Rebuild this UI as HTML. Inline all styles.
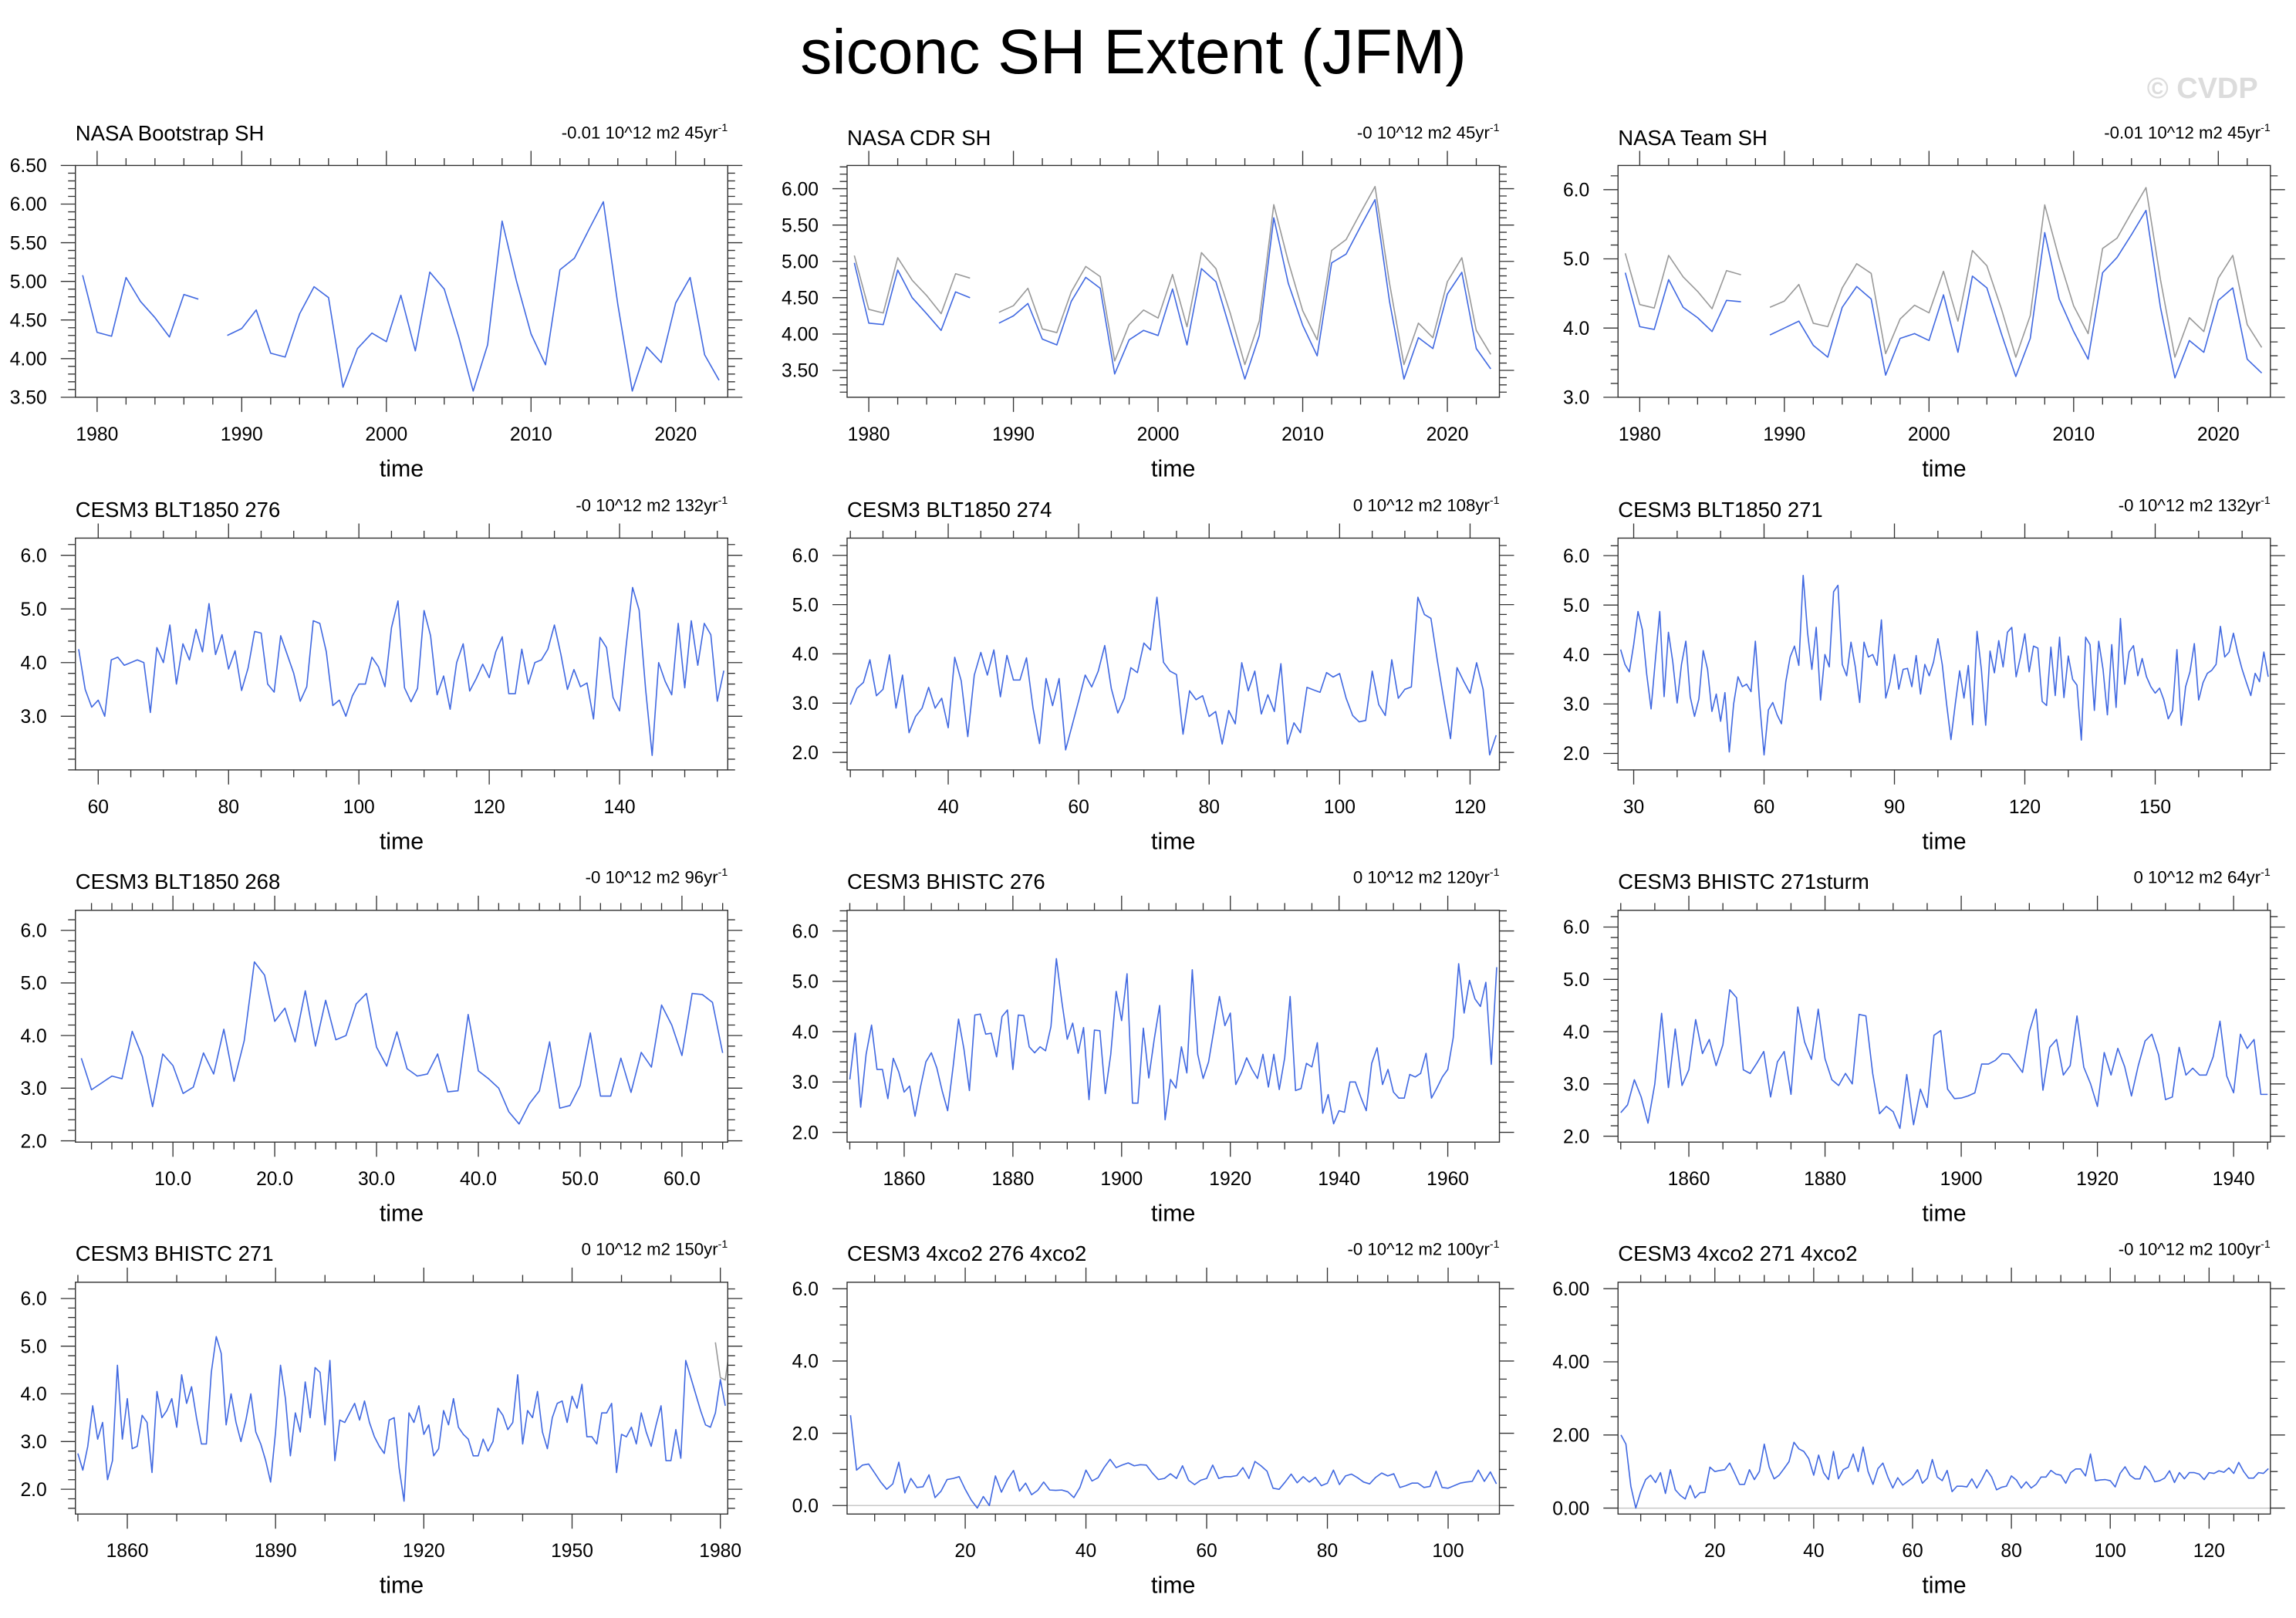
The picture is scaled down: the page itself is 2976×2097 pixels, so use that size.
<!DOCTYPE html>
<html><head><meta charset="utf-8"><title>siconc SH Extent (JFM)</title>
<style>html,body{margin:0;padding:0;background:#fff;}svg{display:block;}</style></head>
<body>
<svg id="chart" xmlns="http://www.w3.org/2000/svg" width="2976" height="2097" viewBox="0 0 1568 1105" preserveAspectRatio="none" font-family="'Liberation Sans', Arial, sans-serif">
<rect x="0" y="0" width="1568" height="1105" fill="#fff"/>
<text x="774" y="50" text-anchor="middle" font-size="43" textLength="455" lengthAdjust="spacingAndGlyphs" fill="#000">siconc SH Extent (JFM)</text>
<text x="1542" y="67" text-anchor="end" font-size="20" font-weight="bold" fill="#dcdcdc">© CVDP</text>
</svg>
<script>
// ---- data (top level) ----
const obsBootstrap = [5.08,4.34,4.29,5.05,4.74,4.53,4.28,4.83,4.77,null,4.30,4.39,4.63,4.07,4.02,4.58,4.93,4.79,3.63,4.13,4.33,4.22,4.82,4.10,5.12,4.90,4.28,3.58,4.18,5.78,5.00,4.32,3.92,5.15,5.30,5.67,6.03,4.70,3.58,4.15,3.95,4.72,5.05,4.05,3.72];
const obsCDR = [4.98,4.15,4.13,4.88,4.50,4.28,4.05,4.58,4.50,null,4.15,4.25,4.42,3.93,3.85,4.45,4.78,4.63,3.45,3.92,4.05,3.98,4.62,3.85,4.90,4.72,4.05,3.38,3.98,5.60,4.70,4.12,3.70,4.98,5.10,5.48,5.85,4.45,3.38,3.95,3.80,4.55,4.85,3.80,3.52];
const obsTeam = [4.80,4.02,3.98,4.70,4.30,4.15,3.95,4.40,4.38,null,3.90,4.00,4.10,3.75,3.58,4.30,4.60,4.42,3.32,3.85,3.92,3.82,4.48,3.65,4.75,4.58,3.92,3.30,3.85,5.38,4.42,3.95,3.55,4.80,5.02,5.35,5.70,4.30,3.28,3.82,3.65,4.40,4.58,3.55,3.35];
const blt276 = [4.25,3.5,3.17,3.3,3.0,4.05,4.1,3.95,4.0,4.05,4.0,3.07,4.28,4.0,4.7,3.6,4.35,4.05,4.62,4.2,5.1,4.15,4.52,3.88,4.22,3.48,3.9,4.58,4.55,3.6,3.45,4.5,4.15,3.8,3.28,3.55,4.78,4.73,4.2,3.2,3.3,3.0,3.38,3.6,3.6,4.1,3.92,3.55,4.65,5.15,3.53,3.27,3.52,4.97,4.5,3.4,3.75,3.13,4.0,4.35,3.47,3.7,3.97,3.72,4.2,4.48,3.42,3.42,4.25,3.6,4.0,4.05,4.25,4.7,4.15,3.5,3.87,3.55,3.62,2.95,4.47,4.28,3.35,3.1,4.3,5.4,4.98,3.5,2.27,4.0,3.65,3.4,4.73,3.53,4.78,3.95,4.73,4.52,3.28,3.85];
const blt274 = [2.97,3.3,3.42,3.88,3.15,3.28,3.98,2.9,3.57,2.4,2.73,2.9,3.32,2.9,3.1,2.5,3.93,3.45,2.32,3.57,4.03,3.57,4.08,3.13,3.97,3.47,3.47,3.92,2.9,2.18,3.5,2.95,3.5,2.05,2.55,3.05,3.57,3.33,3.65,4.17,3.3,2.8,3.1,3.72,3.62,4.22,4.08,5.15,3.83,3.65,3.58,2.37,3.25,3.07,3.15,2.73,2.83,2.17,2.85,2.58,3.82,3.25,3.65,2.78,3.17,2.83,3.8,2.17,2.6,2.4,3.32,3.27,3.22,3.62,3.53,3.6,3.1,2.75,2.62,2.65,3.65,2.97,2.75,3.88,3.1,3.28,3.33,5.15,4.8,4.72,3.85,3.05,2.28,3.72,3.45,3.2,3.82,3.28,1.95,2.35];
const blt271 = [4.1,3.8,3.65,4.2,4.87,4.5,3.6,2.9,3.9,4.87,3.15,4.45,3.85,3.02,3.8,4.27,3.15,2.75,3.1,4.08,3.7,2.85,3.2,2.65,3.23,2.03,3.0,3.55,3.35,3.4,3.25,4.27,3.0,1.97,2.88,3.03,2.78,2.6,3.45,3.95,4.17,3.78,5.6,4.45,3.7,4.55,3.08,4.0,3.75,5.27,5.4,3.8,3.57,4.25,3.75,3.03,4.25,3.95,4.0,3.78,4.7,3.12,3.45,4.0,3.3,3.7,3.72,3.35,3.98,3.2,3.8,3.57,3.85,4.32,3.8,3.0,2.28,3.0,3.67,3.12,3.78,2.58,4.47,3.7,2.57,4.07,3.63,4.28,3.75,4.45,4.55,3.55,3.95,4.42,3.65,4.17,4.13,3.05,2.97,4.15,3.17,4.35,3.13,3.97,3.5,3.38,2.27,4.35,4.2,2.87,4.27,3.7,2.78,4.2,2.93,4.73,3.4,4.05,4.18,3.57,3.92,3.55,3.35,3.22,3.32,3.08,2.7,2.87,4.1,2.57,3.35,3.65,4.22,3.08,3.43,3.62,3.68,3.8,4.57,3.95,4.05,4.43,4.03,3.7,3.43,3.17,3.62,3.45,4.05,3.55];
const blt268 = [3.57,2.97,3.1,3.23,3.18,4.08,3.6,2.65,3.65,3.43,2.9,3.02,3.67,3.27,4.12,3.13,3.9,5.4,5.15,4.27,4.52,3.88,4.85,3.8,4.67,3.92,4.0,4.6,4.8,3.78,3.42,4.07,3.37,3.23,3.27,3.65,2.93,2.95,4.4,3.33,3.18,3.0,2.55,2.32,2.7,2.95,3.88,2.62,2.67,3.05,4.05,2.85,2.85,3.57,2.92,3.68,3.4,4.58,4.2,3.62,4.8,4.78,4.63,3.67];
const bhist276 = [3.05,3.97,2.5,3.55,4.13,3.25,3.25,2.67,3.47,3.2,2.8,2.92,2.32,2.9,3.4,3.58,3.28,2.82,2.43,3.3,4.25,3.65,2.83,4.33,4.35,3.95,3.97,3.5,4.3,4.43,3.25,4.33,4.32,3.7,3.58,3.7,3.62,4.1,5.45,4.6,3.85,4.17,3.57,4.08,2.65,4.03,4.02,2.77,3.55,4.8,4.22,5.15,2.58,2.58,4.07,3.08,3.85,4.52,2.25,3.05,2.88,3.7,3.18,5.23,3.55,3.07,3.4,4.05,4.7,4.12,4.37,2.95,3.18,3.48,3.25,3.07,3.55,2.9,3.55,2.85,3.48,4.7,2.83,2.87,3.37,3.3,3.78,2.38,2.75,2.17,2.43,2.4,3.0,3.0,2.7,2.43,3.37,3.68,2.95,3.25,2.8,2.68,2.68,3.15,3.1,3.17,3.57,2.68,2.88,3.1,3.25,3.88,5.35,4.37,5.02,4.65,4.5,4.98,3.35,5.28];
const bhist271sturm = [2.45,2.6,3.08,2.75,2.25,3.0,4.35,2.93,4.05,2.97,3.27,4.23,3.58,3.85,3.35,3.75,4.8,4.65,3.27,3.2,3.4,3.62,2.75,3.42,3.62,2.8,4.47,3.8,3.47,4.43,3.48,3.08,2.97,3.2,3.0,4.33,4.3,3.2,2.43,2.57,2.47,2.15,3.18,2.22,2.9,2.55,3.93,4.02,2.9,2.72,2.73,2.77,2.83,3.38,3.38,3.45,3.58,3.57,3.4,3.22,4.0,4.43,2.88,3.7,3.85,3.17,3.35,4.3,3.32,3.0,2.57,3.6,3.17,3.68,3.33,2.77,3.35,3.82,3.95,3.55,2.7,2.75,3.7,3.17,3.3,3.17,3.17,3.52,4.2,3.15,2.83,3.95,3.68,3.85,2.8,2.8];
const bhist271 = [2.75,2.4,2.9,3.75,3.05,3.4,2.2,2.6,4.6,3.05,3.9,2.85,2.9,3.55,3.4,2.35,4.05,3.5,3.65,3.9,3.3,4.4,3.8,4.15,3.5,2.95,2.95,4.45,5.2,4.85,3.35,4.0,3.4,3.0,3.45,4.0,3.2,2.95,2.6,2.15,3.2,4.6,3.9,2.7,3.6,3.2,4.25,3.5,4.55,4.45,3.35,4.7,2.6,3.45,3.4,3.6,3.8,3.45,3.85,3.4,3.1,2.9,2.75,3.45,3.5,2.45,1.75,3.6,3.4,3.75,3.15,3.35,2.7,2.85,3.65,3.35,3.9,3.3,3.15,3.05,2.7,2.7,3.05,2.8,3.0,3.7,3.55,3.25,3.4,4.4,2.95,3.65,3.5,4.05,3.2,2.85,3.5,3.8,3.85,3.4,3.95,3.7,4.2,3.1,3.1,2.95,3.6,3.6,3.8,2.35,3.15,3.1,3.3,2.95,3.6,3.2,2.9,3.35,3.75,2.6,2.6,3.25,2.65,4.7,4.35,4.0,3.65,3.35,3.3,3.6,4.3,3.75];
const co2x276 = [2.5,0.98,1.12,1.15,0.9,0.65,0.45,0.6,1.2,0.35,0.75,0.5,0.52,0.85,0.22,0.4,0.72,0.75,0.8,0.45,0.15,-0.07,0.25,0.0,0.82,0.37,0.72,0.97,0.4,0.62,0.3,0.42,0.65,0.43,0.42,0.43,0.38,0.22,0.5,0.98,0.68,0.77,1.05,1.28,1.05,1.12,1.18,1.1,1.13,1.12,0.9,0.72,0.75,0.88,0.75,1.1,0.7,0.58,0.7,0.75,1.12,0.75,0.8,0.8,0.83,1.05,0.75,1.22,1.1,0.95,0.48,0.45,0.65,0.87,0.63,0.8,0.65,0.78,0.55,0.62,0.98,0.58,0.82,0.87,0.77,0.65,0.6,0.78,0.9,0.82,0.88,0.5,0.55,0.62,0.62,0.5,0.53,0.95,0.5,0.48,0.55,0.62,0.65,0.67,0.98,0.67,0.93,0.6];
const co2x271 = [2.0,1.75,0.6,0.0,0.45,0.78,0.9,0.7,0.97,0.4,1.05,0.5,0.35,0.25,0.62,0.28,0.42,0.43,1.12,1.0,1.03,1.05,1.23,0.95,0.65,0.65,1.05,0.78,1.0,1.75,1.12,0.8,0.9,1.08,1.27,1.8,1.62,1.55,1.35,0.9,1.45,0.97,0.78,1.55,0.8,1.05,1.12,1.48,1.0,1.67,1.0,0.65,1.08,1.23,0.85,0.55,0.83,0.63,0.73,0.83,1.05,0.68,0.82,1.33,0.85,0.75,1.03,0.45,0.6,0.6,0.58,0.8,0.55,0.78,1.05,0.85,0.5,0.57,0.6,0.88,0.77,0.55,0.72,0.55,0.65,0.85,0.85,1.03,0.93,0.9,0.68,0.97,1.07,1.07,0.88,1.48,0.75,0.77,0.78,0.75,0.58,0.95,1.13,0.9,0.8,0.8,1.15,1.0,0.72,0.75,0.82,1.02,0.7,0.97,0.8,0.97,0.97,0.93,0.78,0.97,0.95,1.02,0.98,1.1,0.95,1.25,1.0,0.82,0.82,0.97,0.95,1.08];

const panelTitles = ["NASA Bootstrap SH","NASA CDR SH","NASA Team SH","CESM3 BLT1850 276","CESM3 BLT1850 274","CESM3 BLT1850 271","CESM3 BLT1850 268","CESM3 BHISTC 276","CESM3 BHISTC 271sturm","CESM3 BHISTC 271","CESM3 4xco2 276 4xco2","CESM3 4xco2 271 4xco2"];
const trendLabels = ["-0.01 10^12 m2 45yr","-0 10^12 m2 45yr","-0.01 10^12 m2 45yr","-0 10^12 m2 132yr","0 10^12 m2 108yr","-0 10^12 m2 132yr","-0 10^12 m2 96yr","0 10^12 m2 120yr","0 10^12 m2 64yr","0 10^12 m2 150yr","-0 10^12 m2 100yr","-0 10^12 m2 100yr"];

const NS = "http://www.w3.org/2000/svg";
const svg = document.getElementById('chart');
function mk(tag, parent){ const e = document.createElementNS(NS, tag); parent.appendChild(e); return e; }
function setA(e, o){ for (const k in o) e.setAttribute(k, o[k]); }

const colX = [51.5, 578.5, 1105];
const rowY = [113, 367.5, 621.7, 875.7];
const FW = 445.5, FH = 158.3;
const BLUE = "#4169e1", GRAY = "#999999";

function range(a, b, s){ const r=[]; for(let v=a; v<=b+1e-9; v+=s) r.push(Math.round(v*1000)/1000); return r; }

const panels = [
 {r:0,c:0,xmin:1978.5,xmax:2023.6,ymin:3.5,ymax:6.5,xMaj:range(1980,2020,10),xMin:2,yMaj:range(3.5,6.5,0.5),yMin:0.1,yDec:2,xDec:0,series:[{d:obsBootstrap,s:1979,col:BLUE}],tY:96},
 {r:0,c:1,xmin:1978.5,xmax:2023.6,ymin:3.13,ymax:6.32,xMaj:range(1980,2020,10),xMin:2,yMaj:range(3.5,6.0,0.5),yMin:0.1,yDec:2,xDec:0,series:[{d:obsBootstrap,s:1979,col:GRAY},{d:obsCDR,s:1979,col:BLUE}],tY:99},
 {r:0,c:2,xmin:1978.5,xmax:2023.6,ymin:3.0,ymax:6.35,xMaj:range(1980,2020,10),xMin:2,yMaj:range(3,6,1),yMin:0.2,yDec:1,xDec:0,series:[{d:obsBootstrap,s:1979,col:GRAY},{d:obsTeam,s:1979,col:BLUE}],tY:99},
 {r:1,c:0,xmin:56.5,xmax:156.6,ymin:2.0,ymax:6.32,xMaj:range(60,140,20),xMin:5,yMaj:range(3,6,1),yMin:0.2,yDec:1,xDec:0,series:[{d:blt276,s:57,col:BLUE}],tY:353},
 {r:1,c:1,xmin:24.5,xmax:124.5,ymin:1.645,ymax:6.35,xMaj:range(40,120,20),xMin:5,yMaj:range(2,6,1),yMin:0.2,yDec:1,xDec:0,series:[{d:blt274,s:25,col:BLUE}],tY:353},
 {r:1,c:2,xmin:26.4,xmax:176.5,ymin:1.667,ymax:6.354,xMaj:range(30,150,30),xMin:10,yMaj:range(2,6,1),yMin:0.2,yDec:1,xDec:0,series:[{d:blt271,s:27,col:BLUE}],tY:353},
 {r:2,c:0,xmin:0.42,xmax:64.5,ymin:1.975,ymax:6.38,xMaj:range(10,60,10),xMin:2,yMaj:range(2,6,1),yMin:0.2,yDec:1,xDec:1,series:[{d:blt268,s:1,col:BLUE}],tY:607},
 {r:2,c:1,xmin:1849.5,xmax:1969.5,ymin:1.806,ymax:6.41,xMaj:range(1860,1960,20),xMin:5,yMaj:range(2,6,1),yMin:0.2,yDec:1,xDec:0,series:[{d:bhist276,s:1850,col:BLUE}],tY:607},
 {r:2,c:2,xmin:1849.6,xmax:1945.4,ymin:1.887,ymax:6.32,xMaj:range(1860,1940,20),xMin:5,yMaj:range(2,6,1),yMin:0.2,yDec:1,xDec:0,series:[{d:bhist271sturm,s:1850,col:BLUE}],tY:607},
 {r:3,c:0,xmin:1849.5,xmax:1981.5,ymin:1.48,ymax:6.34,xMaj:range(1860,1980,30),xMin:10,yMaj:range(2,6,1),yMin:0.2,yDec:1,xDec:0,series:[{d:bhist271,s:1850,col:BLUE},{d:obsBootstrap,s:1979,col:GRAY}],tY:861},
 {r:3,c:1,xmin:0.43,xmax:108.5,ymin:-0.235,ymax:6.18,xMaj:range(20,100,20),xMin:5,yMaj:range(0,6,2),yMin:0.5,yDec:1,xDec:0,zero:true,series:[{d:co2x276,s:1,col:BLUE}],tY:861},
 {r:3,c:2,xmin:0.41,xmax:132.4,ymin:-0.162,ymax:6.176,xMaj:range(20,120,20),xMin:5,yMaj:range(0,6,2),yMin:0.5,yDec:2,xDec:0,zero:true,series:[{d:co2x271,s:1,col:BLUE}],tY:861}
];

panels.forEach((p, i) => {
  const x0 = colX[p.c], y0 = rowY[p.r];
  const sx = v => x0 + (v - p.xmin) / (p.xmax - p.xmin) * FW;
  const sy = v => y0 + FH - (v - p.ymin) / (p.ymax - p.ymin) * FH;
  const g = mk('g', svg);
  
  

  const t = mk('text', g);
  setA(t, {x: x0, y: p.tY, 'font-size': 14.5, fill: '#000'});
  t.textContent = panelTitles[i];
  
  

  const tr = mk('text', g);
  setA(tr, {x: x0 + FW, y: y0 - 18.5, 'font-size': 11.7, 'text-anchor': 'end', fill: '#000'});
  tr.appendChild(document.createTextNode(trendLabels[i]));
  const sup = mk('tspan', tr);
  setA(sup, {dy: -5, 'font-size': 7.5});
  sup.textContent = '-1';
  
  

  const tk = mk('path', g);
  let d = '';
  const xMinTicks = range(Math.ceil(p.xmin / p.xMin) * p.xMin, p.xmax, p.xMin);
  xMinTicks.forEach(v => { const x = sx(v); d += `M${x},${y0}v-5M${x},${y0+FH}v5`; });
  p.xMaj.forEach(v => { const x = sx(v); d += `M${x},${y0}v-10M${x},${y0+FH}v10`; });
  const yMinTicks = range(Math.ceil(p.ymin / p.yMin - 1e-6) * p.yMin, p.ymax, p.yMin);
  yMinTicks.forEach(v => { const y = sy(v); d += `M${x0},${y}h-5M${x0+FW},${y}h5`; });
  p.yMaj.forEach(v => { const y = sy(v); d += `M${x0},${y}h-10M${x0+FW},${y}h10`; });
  setA(tk, {d: d, stroke: '#333', 'stroke-width': 0.7, fill: 'none'});
  
  

  p.xMaj.forEach(v => {
    const l = mk('text', g);
    setA(l, {x: sx(v), y: y0 + FH + 29.5, 'font-size': 13, 'text-anchor': 'middle', fill: '#000'});
    l.textContent = v.toFixed(p.xDec);
    
    
  });
  p.yMaj.forEach(v => {
    const l = mk('text', g);
    setA(l, {x: x0 - 19.5, y: sy(v) + 4.6, 'font-size': 13, 'text-anchor': 'end', fill: '#000'});
    l.textContent = v.toFixed(p.yDec);
    
    
  });
  const xt = mk('text', g);
  setA(xt, {x: x0 + FW / 2, y: y0 + FH + 54, 'font-size': 16, 'text-anchor': 'middle', fill: '#000'});
  xt.textContent = 'time';
  
  

  const cp = mk('clipPath', g);
  cp.setAttribute('id', 'clip' + i);
  const cr = mk('rect', cp);
  setA(cr, {x: x0, y: y0, width: FW, height: FH});

  if (p.zero) {
    const z = mk('line', g);
    setA(z, {x1: x0, x2: x0 + FW, y1: sy(0), y2: sy(0), stroke: '#c8c8c8', 'stroke-width': 0.8});
    
    
  }

  p.series.forEach((s, k) => {
    let pd = '', pen = false;
    s.d.forEach((v, j) => {
      if (v === null) { pen = false; return; }
      const x = sx(s.s + j), y = sy(v);
      pd += (pen ? 'L' : 'M') + x.toFixed(2) + ',' + y.toFixed(2);
      pen = true;
    });
    const ln = mk('path', g);
    setA(ln, {d: pd, fill: 'none', stroke: s.col, 'stroke-width': 0.85, 'stroke-linejoin': 'round', 'clip-path': `url(#clip${i})`});
    
    
  });

  const fr = mk('rect', g);
  setA(fr, {x: x0, y: y0, width: FW, height: FH, fill: 'none', stroke: '#333', 'stroke-width': 0.75});
  
  
});
</script>
</body></html>
